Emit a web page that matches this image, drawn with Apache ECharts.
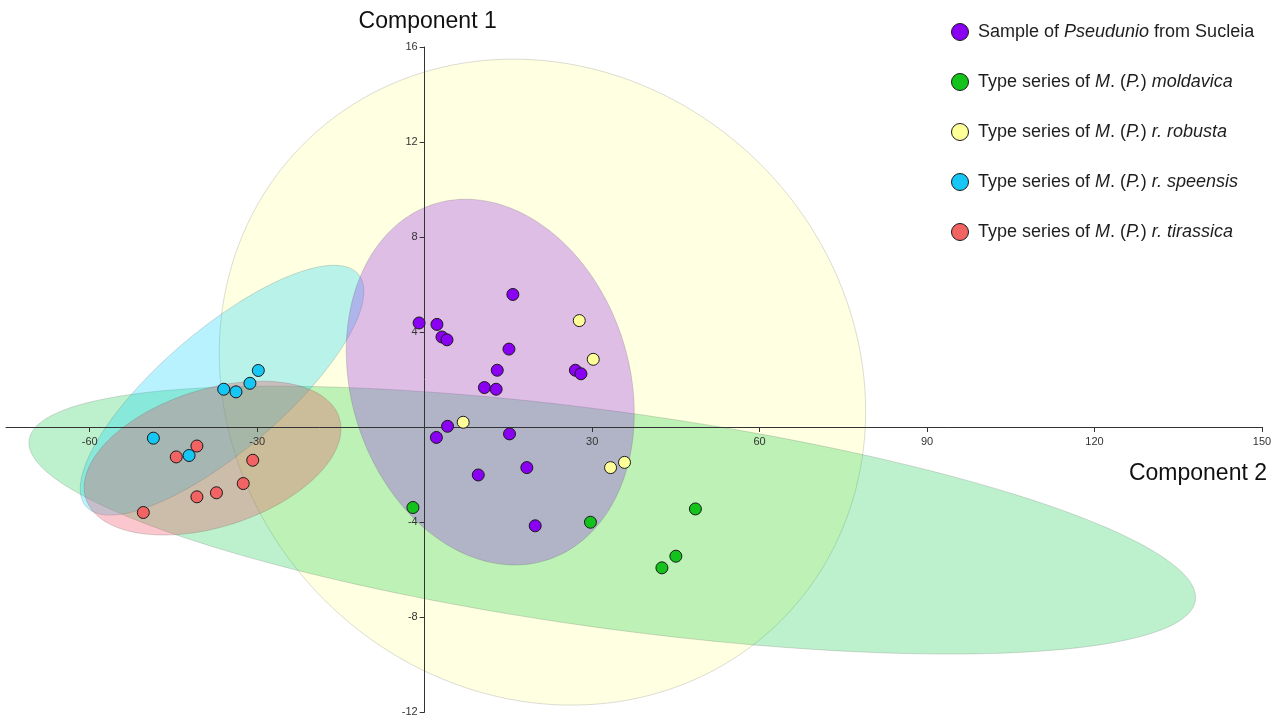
<!DOCTYPE html>
<html>
<head>
<meta charset="utf-8">
<title>PCA scatter – Pseudunio and type series</title>
<script src="https://cdn.jsdelivr.net/npm/echarts@6/dist/echarts.min.js"></script>
<style>
  html, body { margin: 0; padding: 0; background: #ffffff; }
  #chart { width: 1277px; height: 720px; }
</style>
</head>
<body>
<div id="chart"></div>
<script>
// ---- Data -------------------------------------------------------------
// Group names (series / legend order)
const groupNames = [
  'Sample of Pseudunio from Sucleia',
  'Type series of M. (P.) moldavica',
  'Type series of M. (P.) r. robusta',
  'Type series of M. (P.) r. speensis',
  'Type series of M. (P.) r. tirassica'
];

// Scores: [Component 2 (x), Component 1 (y)]
const pseudunio = [
  [15.8, 5.58], [-1.0, 4.38], [2.2, 4.32], [3.1, 3.79], [4.0, 3.67],
  [15.1, 3.28], [13.0, 2.39], [10.7, 1.66], [12.8, 1.59], [27.0, 2.39],
  [28.0, 2.24], [4.1, 0.03], [2.1, -0.44], [15.2, -0.29], [9.6, -2.02],
  [18.3, -1.71], [19.8, -4.16]
];
const moldavica = [[-2.1, -3.39], [29.7, -4.01], [48.5, -3.45], [45.0, -5.44], [42.5, -5.93]];
const robusta = [[27.7, 4.48], [30.2, 2.85], [6.9, 0.2], [33.3, -1.71], [35.8, -1.49]];
const speensis = [[-29.8, 2.38], [-31.3, 1.84], [-33.8, 1.48], [-36.0, 1.59], [-48.6, -0.47], [-42.2, -1.2]];
const tirassica = [[-40.8, -0.80], [-44.5, -1.26], [-30.8, -1.40], [-32.5, -2.38], [-37.3, -2.77], [-40.8, -2.94], [-50.4, -3.60]];

// Confidence ellipses: [centre x, centre y, half-width x, half-height y, correlation]
const ellipsePseudunio = [11.75, 1.89, 25.8, 7.7, -0.17];
const ellipseMoldavica = [33.6, -3.92, 104.5, 5.64, -0.578];
const ellipseRobusta = [21.1, 1.89, 57.9, 13.6, -0.09];
const ellipseSpeensis = [-36.3, 1.55, 25.4, 5.26, 0.79];
const ellipseTirassica = [-38.0, -1.31, 23.0, 3.24, 0.38];

// Axis ranges and tick values (zero is left unlabelled at the crossing)
const xRange = [-75, 150];
const yRange = [-12, 16];
const xTickValues = [-60, -30, 30, 60, 90, 120, 150];
const yTickValues = [-12, -8, -4, 4, 8, 12, 16];

// ---- Styles -----------------------------------------------------------
const markerColors = ['#8a00f2', '#14c21c', '#ffff99', '#16c6f4', '#f26464'];
const ellipseFills = {
  robusta:   'rgba(255, 255, 170, 0.35)',
  moldavica: 'rgba(0, 200, 60, 0.26)',
  speensis:  'rgba(0, 210, 250, 0.28)',
  tirassica: 'rgba(235, 70, 90, 0.30)',
  pseudunio: 'rgba(150, 40, 240, 0.30)'
};

// Drawing order of the ellipses (bottom to top)
const ellipseLayers = [
  { params: ellipseRobusta, fill: ellipseFills.robusta },
  { params: ellipseMoldavica, fill: ellipseFills.moldavica },
  { params: ellipseSpeensis, fill: ellipseFills.speensis },
  { params: ellipseTirassica, fill: ellipseFills.tirassica },
  { params: ellipsePseudunio, fill: ellipseFills.pseudunio }
];

// Legend labels with italic taxon names
const legendRich = {
  'Sample of Pseudunio from Sucleia': 'Sample of {i|Pseudunio} from Sucleia',
  'Type series of M. (P.) moldavica': 'Type series of {i|M}. ({i|P.}) {i|moldavica}',
  'Type series of M. (P.) r. robusta': 'Type series of {i|M}. ({i|P.}) {i|r. robusta}',
  'Type series of M. (P.) r. speensis': 'Type series of {i|M}. ({i|P.}) {i|r. speensis}',
  'Type series of M. (P.) r. tirassica': 'Type series of {i|M}. ({i|P.}) {i|r. tirassica}'
};

const FONT = '"Liberation Sans", Arial, Helvetica, sans-serif';
const AXIS_COLOR = '#333333';
const groupData = [pseudunio, moldavica, robusta, speensis, tirassica];

// ---- Layout -----------------------------------------------------------
const W = 1277, H = 720;
const grid = { left: 6, right: 15, top: 47, bottom: 8 };
const plotW = W - grid.left - grid.right;
const plotH = H - grid.top - grid.bottom;
// The axes cross at the origin: shift each axis (with its ticks and labels)
// from the plot edge to the zero line of the other axis.
const yAxisShift = plotW * (0 - xRange[0]) / (xRange[1] - xRange[0]);
const xAxisShift = plotH * (0 - yRange[0]) / (yRange[1] - yRange[0]);

// ---- Chart ------------------------------------------------------------
const chart = echarts.init(document.getElementById('chart'), null, { renderer: 'canvas' });

function renderEllipse(params, api) {
  const cx = api.value(0), cy = api.value(1);
  const rx = api.value(2), ry = api.value(3), rho = api.value(4);
  const q = Math.sqrt(1 - rho * rho);
  const pts = [];
  const n = 180;
  for (let k = 0; k < n; k++) {
    const t = (k / n) * Math.PI * 2;
    const c = Math.cos(t), s = Math.sin(t);
    pts.push(api.coord([cx + rx * c, cy + ry * (rho * c + q * s)]));
  }
  return {
    type: 'polygon',
    shape: { points: pts },
    style: {
      fill: ellipseLayers[params.dataIndex].fill,
      stroke: 'rgba(60, 60, 60, 0.18)',
      lineWidth: 1
    }
  };
}

const scatterSeries = groupNames.map((name, i) => ({
  name: name,
  type: 'scatter',
  z: 5,
  data: groupData[i],
  symbol: 'circle',
  symbolSize: 12,
  itemStyle: {
    color: markerColors[i],
    borderColor: '#1a1a1a',
    borderWidth: 1,
    opacity: 1
  }
}));

const option = {
  animation: false,
  backgroundColor: '#ffffff',
  textStyle: { fontFamily: FONT },
  grid: {
    left: grid.left, right: grid.right, top: grid.top, bottom: grid.bottom,
    containLabel: false,
    outerBoundsMode: 'none'
  },
  legend: {
    data: groupNames,
    orient: 'vertical',
    left: 946,
    top: 18,
    itemWidth: 26,
    itemHeight: 17,
    itemGap: 32,
    icon: 'circle',
    itemStyle: { borderColor: '#1a1a1a', borderWidth: 1 },
    formatter: name => legendRich[name],
    textStyle: {
      fontFamily: FONT,
      fontSize: 18,
      color: '#1e1e1e',
      rich: {
        i: { fontFamily: FONT, fontSize: 18, fontStyle: 'italic', color: '#1e1e1e' }
      }
    }
  },
  xAxis: {
    type: 'value',
    z: 3,
    min: xRange[0],
    max: xRange[1],
    position: 'bottom',
    offset: -xAxisShift,
    name: 'Component 2',
    nameLocation: 'end',
    nameGap: 5,
    nameTextStyle: {
      fontFamily: FONT,
      fontSize: 23,
      color: '#111',
      align: 'right',
      verticalAlign: 'top',
      padding: [35, 0, 0, 0]
    },
    axisLine: { onZero: false, lineStyle: { color: AXIS_COLOR, width: 1 } },
    axisTick: { show: true, inside: false, customValues: xTickValues, length: 5, lineStyle: { color: AXIS_COLOR, width: 1 } },
    axisLabel: { customValues: xTickValues, fontSize: 11, color: '#333', margin: 9, fontFamily: FONT },
    splitLine: { show: false }
  },
  yAxis: {
    type: 'value',
    z: 3,
    min: yRange[0],
    max: yRange[1],
    interval: 4,
    position: 'left',
    offset: -yAxisShift,
    name: 'Component 1',
    nameLocation: 'end',
    nameGap: 14,
    nameTextStyle: {
      fontFamily: FONT,
      fontSize: 23,
      color: '#111',
      padding: [0, 0, 0, 6]
    },
    axisLine: { onZero: false, lineStyle: { color: AXIS_COLOR, width: 1 } },
    axisTick: { show: true, inside: false, customValues: yTickValues, length: 5, lineStyle: { color: AXIS_COLOR, width: 1 } },
    axisLabel: { customValues: yTickValues, fontSize: 11, color: '#333', margin: 7, fontFamily: FONT },
    splitLine: { show: false }
  },
  series: [
    {
      name: 'ellipses',
      type: 'custom',
      z: 1,
      silent: true,
      renderItem: renderEllipse,
      encode: { x: 0, y: 1 },
      data: ellipseLayers.map(e => e.params)
    }
  ].concat(scatterSeries)
};

chart.setOption(option);
</script>
</body>
</html>
